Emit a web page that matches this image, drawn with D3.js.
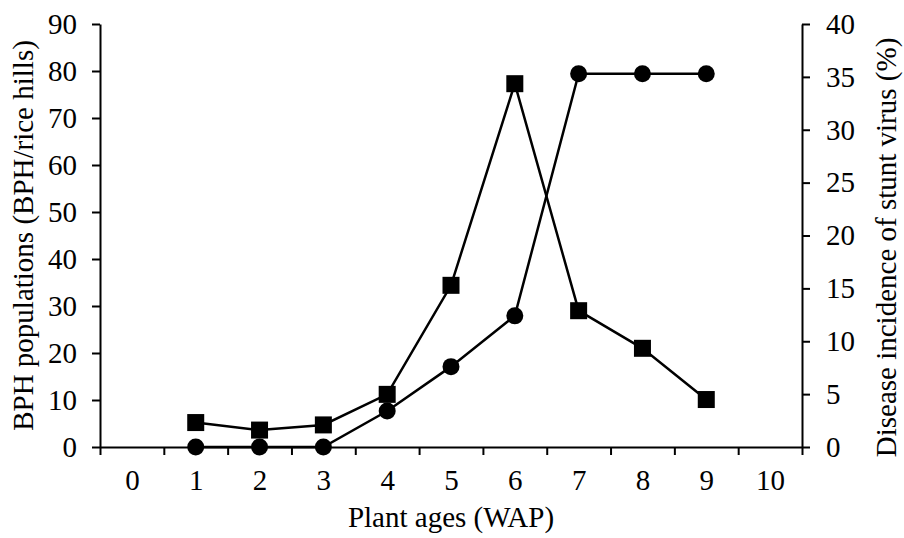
<!DOCTYPE html>
<html>
<head>
<meta charset="utf-8">
<script src="https://cdn.jsdelivr.net/npm/d3@7"></script>
<style>
  body { margin: 0; background: #fff; }
  svg text { font-family: "Liberation Serif", "Times New Roman", Times, "DejaVu Serif", serif !important; }
</style>
</head>
<body>
<div id="chart"></div>
<script>
// plant age in weeks after planting (WAP)
var ages = [1, 2, 3, 4, 5, 6, 7, 8, 9];
// BPH populations (BPH/rice hills), left axis - squares
var bph = [5.2, 3.6, 4.7, 11.2, 34.4, 77.3, 29, 21, 10.1];
// disease incidence of stunt virus (%), right axis - circles
var incidence = [0, 0, 0, 3.4, 7.6, 12.4, 35.3, 35.3, 35.3];
var xLabels = [0, 1, 2, 3, 4, 5, 6, 7, 8, 9, 10];
var leftTicks = [0, 10, 20, 30, 40, 50, 60, 70, 80, 90];
var rightTicks = [0, 5, 10, 15, 20, 25, 30, 35, 40];

var serif = "'Liberation Serif', 'Times New Roman', Times, 'DejaVu Serif', serif";
var fs = 29;

var W = 904, H = 538;
var margin = {top: 24, right: 102, bottom: 91, left: 100},
    width = W - margin.left - margin.right,
    height = H - margin.top - margin.bottom;

var svg = d3.select("#chart").append("svg")
    .attr("width", W)
    .attr("height", H)
    .attr("font-family", serif);

var g = svg.append("g")
    .attr("transform", "translate(" + margin.left + "," + margin.top + ")");

var x = d3.scaleLinear().domain([-0.5, 10.5]).range([0, width]);
var yL = d3.scaleLinear().domain([0, 90]).range([height, 0]);
var yR = d3.scaleLinear().domain([0, 40]).range([height, 0]);

function styleAxis(sel) {
  sel.attr("font-family", serif).attr("font-size", fs);
  sel.selectAll("path, line").attr("stroke", "#000").attr("stroke-width", 2);
  sel.selectAll("text").attr("fill", "#000").style("font-size", fs + "px");
}

// x axis: ticks between categories, labels at centres
var xTickVals = xLabels.map(function(d) { return d - 0.5; }).concat([10.5]);
g.append("g")
    .attr("transform", "translate(0," + height + ")")
    .call(d3.axisBottom(x).tickValues(xTickVals).tickFormat("").tickSize(8).tickSizeOuter(0))
    .call(styleAxis);
g.append("g")
    .attr("transform", "translate(0," + height + ")")
    .call(d3.axisBottom(x).tickValues(xLabels).tickSize(0).tickPadding(22).tickFormat(d3.format("d")))
    .call(function(s) { s.select(".domain").remove(); })
    .call(styleAxis);

// left axis
g.append("g")
    .call(d3.axisLeft(yL).tickValues(leftTicks).tickSize(8).tickSizeOuter(0).tickPadding(15))
    .call(styleAxis);

// right axis
g.append("g")
    .attr("transform", "translate(" + width + ",0)")
    .call(d3.axisRight(yR).tickValues(rightTicks).tickSize(8).tickSizeOuter(0).tickPadding(16))
    .call(styleAxis);

// axis titles
svg.append("text")
    .attr("transform", "translate(" + (margin.left + width / 2) + "," + 527 + ")")
    .style("font-size", fs + "px")
    .style("text-anchor", "middle")
    .text("Plant ages (WAP)");

svg.append("text")
    .attr("transform", "translate(" + 33 + "," + (margin.top + height / 2) + ") rotate(-90)")
    .style("font-size", fs + "px")
    .style("text-anchor", "middle")
    .text("BPH populations (BPH/rice hills)");

svg.append("text")
    .attr("transform", "translate(" + 896 + "," + (margin.top + height / 2 + 12) + ") rotate(-90)")
    .style("font-size", fs + "px")
    .style("text-anchor", "middle")
    .text("Disease incidence of stunt virus (%)");

var bphData = ages.map(function(a, i) { return {x: a, y: bph[i]}; });
var incData = ages.map(function(a, i) { return {x: a, y: incidence[i]}; });

// BPH line with squares
g.append("path")
    .datum(bphData)
    .attr("fill", "none")
    .attr("stroke", "#000")
    .attr("stroke-width", 2.5)
    .attr("d", d3.line().x(function(d) { return x(d.x); }).y(function(d) { return yL(d.y); }));

// incidence line with circles
g.append("path")
    .datum(incData)
    .attr("fill", "none")
    .attr("stroke", "#000")
    .attr("stroke-width", 2.5)
    .attr("d", d3.line().x(function(d) { return x(d.x); }).y(function(d) { return yR(d.y); }));

var sq = 17;
g.selectAll("rect.bph")
    .data(bphData)
    .enter().append("rect")
    .attr("class", "bph")
    .attr("x", function(d) { return x(d.x) - sq / 2; })
    .attr("y", function(d) { return yL(d.y) - sq / 2; })
    .attr("width", sq)
    .attr("height", sq)
    .attr("fill", "#000");

g.selectAll("circle.inc")
    .data(incData)
    .enter().append("circle")
    .attr("class", "inc")
    .attr("cx", function(d) { return x(d.x); })
    .attr("cy", function(d) { return yR(d.y); })
    .attr("r", 8.5)
    .attr("fill", "#000");
</script>
</body>
</html>
